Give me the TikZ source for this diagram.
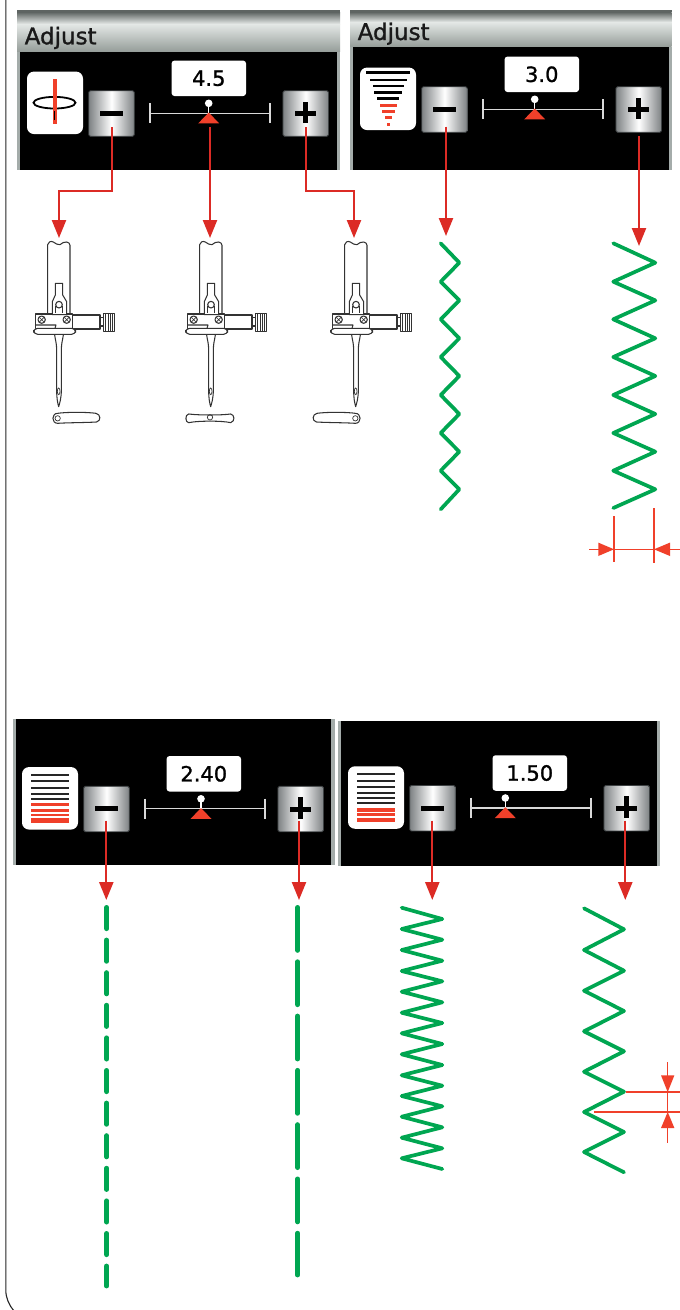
\documentclass[tikz,border=0pt]{standalone}
\usepackage{fontspec}
\setmainfont{DejaVu Sans}
\newfontfamily\uifont[FakeBold=1.1]{DejaVu Sans}
\usetikzlibrary{arrows.meta}
\definecolor{arrowred}{HTML}{DC2B25}
\definecolor{markred}{HTML}{F0402A}
\definecolor{stitch}{HTML}{00A651}
\definecolor{barmid}{HTML}{E4E8E6}
\definecolor{bardark}{HTML}{5E6462}
\definecolor{barlow}{HTML}{959D99}
\definecolor{edgegray}{HTML}{A4ACAA}
\definecolor{btngray}{HTML}{7E8284}
\definecolor{btnedge}{HTML}{3E4244}
\definecolor{inkdark}{HTML}{333333}
\tikzset{
  btn/.style={rectangle,rounded corners=1.5pt,draw=btnedge,line width=0.9pt,minimum width=45.5pt,minimum height=45.5pt,inner sep=0pt,left color=btngray,right color=btngray,middle color=white},
  valbox/.style={rectangle,rounded corners=3pt,fill=white,minimum width=74.5pt,minimum height=35.5pt,inner sep=0pt,font=\uifont\fontsize{21}{21}\selectfont,text=black},
  iconbox/.style={rectangle,rounded corners=7pt,fill=white,minimum width=56pt,minimum height=62.5pt,inner sep=0pt},
  conn/.style={draw=arrowred,line width=2.3pt,-{Triangle[length=18pt,width=14pt]}},
  zig/.style={draw=stitch,line width=3.7pt,line cap=round,line join=round},
  dash1/.style={draw=stitch,line width=4.8pt,line cap=round,dash pattern=on 21.3pt off 11.3pt},
  dash2/.style={draw=stitch,line width=4.8pt,line cap=round,dash pattern=on 43pt off 11.3pt},
  dimline/.style={draw=markred,line width=1.2pt},
  ink/.style={draw=inkdark,line width=1.05pt,line join=round},
  thinink/.style={draw=inkdark,line width=0.7pt},
  inkfill/.style={ink,fill=white},
  sliderline/.style={draw=white!85!black,line width=1.2pt},
  adjusttext/.style={anchor=base west,inner sep=0pt,font=\uifont\fontsize{23}{23}\selectfont,text=black!90}
}
% #1 name, #2 dx, #3 dy, #4 value, #5 knob x
\newcommand{\ctrlpanel}[5]{%
  \begin{scope}[shift={(#2,#3)}]
    \node[iconbox] (#1icon) at (55,102.8) {};
    \node[btn] (#1minus) at (111.5,113.5) {};
    \node[btn] (#1plus) at (305.7,113.5) {};
    \fill[black] (99.5,110.8) rectangle (123,115.8);
    \fill[black] (294.7,111) rectangle (315.5,116);
    \fill[black] (302.6,101.7) rectangle (307.6,123.3);
    \node[valbox] (#1val) at (208.8,78.3) {#4};
    \draw[sliderline] (150,113.3) -- (270,113.3);
    \draw[sliderline] (150,103) -- (150,123.4);
    \draw[sliderline] (270,103) -- (270,123.4);
    \draw[white,line width=1.2pt] (#5,103.3) -- (#5,113.3);
    \fill[white] (#5,103.3) circle (3.8);
    \fill[markred] (#5,112.5) -- (#5+10.5,123.4) -- (#5-10.5,123.4) -- cycle;
  \end{scope}}
% #1 x shift, #2 loop path
\newcommand{\needle}[2]{%
  \begin{scope}[shift={(#1,230)},x=0.3333pt,y=-0.3333pt]
    \draw[ink] (83,250) -- (83,44) .. controls (84,36) and (92,32) .. (100,36) .. controls (108,40) and (112,46) .. (120,44) .. controls (128,42) and (130,32) .. (140,36) .. controls (146,38) and (150,40) .. (150,46) -- (150,250);
    \draw[inkfill] (157,255) rectangle (240,297);
    \draw[inkfill] (240,262) rectangle (250,288);
    \draw[inkfill] (250,250) rectangle (284,304);
    \draw[thinink] (257,250) -- (257,304) (264,250) -- (264,304) (271,250) -- (271,304) (278,250) -- (278,304);
    \draw[inkfill] (47,252) -- (157,252) -- (157,295) -- (47,295) -- cycle;
    \draw[ink] (48,285) -- (108,285) -- (105,295);
    \draw[inkfill] (106,195) -- (106,160) -- (128,160) -- (128,195) -- (140,215) -- (140,254) -- (97,254) -- (97,215) -- cycle;
    \draw[ink] (107,228) -- (107,250) (127,228) -- (127,250);
    \draw[inkfill] (117,224) circle (10);
    \draw[inkfill] (65,269) circle (11);
    \draw[inkfill] (140,269) circle (11);
    \draw[thinink] (58,262) -- (72,276) (58,276) -- (72,262) (133,262) -- (147,276) (133,276) -- (147,262);
    \draw[inkfill,rounded corners=4pt] (41,295) rectangle (167,313);
    \draw[ink] (104,315) .. controls (106,330) and (110,340) .. (110,360) -- (110,480) .. controls (110,505) and (113,520) .. (116,530) .. controls (119,520) and (124,505) .. (124,480) -- (124,360) .. controls (124,340) and (128,330) .. (130,315);
    \draw[thinink] (116,484) ellipse (4 and 10);
    #2
  \end{scope}}
\begin{document}
\begin{tikzpicture}[x=1pt,y=-1pt]
\useasboundingbox (0,0) rectangle (680,1310);
\fill[white] (0,0) rectangle (680,1310);
% page edge
\begin{scope}
\clip (0,0) rectangle (680,1310);
\draw[draw=black!85,line width=1.1pt] (5.8,0) -- (5.8,1290) .. controls (5.8,1298) and (9,1305) .. (14,1311);
\end{scope}

% panel 1 frame
\fill[edgegray] (17,51.7) rectangle (340,170);
\fill[black] (20,51.7) rectangle (337,170);
\fill[bardark] (17,10) rectangle (340,12);
\shade[top color=bardark,bottom color=barmid] (17,12) rectangle (340,24);
\shade[top color=barmid,bottom color=barlow] (17,24) rectangle (340,51.7);
\node[adjusttext] (t1) at (24.5,44.3) {Adjust};
\ctrlpanel{a}{0}{0}{4.5}{208.7}
% panel 2 frame
\fill[edgegray] (350,46.7) rectangle (671.7,170);
\fill[black] (352.7,46.7) rectangle (669.3,170);
\fill[bardark] (350,10) rectangle (671.7,12);
\shade[top color=bardark,bottom color=barmid] (350,12) rectangle (671.7,22);
\shade[top color=barmid,bottom color=barlow] (350,22) rectangle (671.7,46.7);
\node[adjusttext] (t2) at (357.5,40) {Adjust};
\ctrlpanel{b}{333}{-4}{3.0}{201.7}
% panel 3 frame
\fill[edgegray] (12.7,719) rectangle (335,865);
\fill[black] (15.7,719) rectangle (330.7,865);
\ctrlpanel{c}{-5}{695.5}{2.40}{206}
% panel 4 frame
\fill[edgegray] (338.3,721) rectangle (660,866);
\fill[black] (341,721) rectangle (656.7,866);
\ctrlpanel{d}{321}{694.7}{1.50}{184.3}

% icons
\draw[black,line width=1.8pt] (54.5,102.7) ellipse (21 and 5.8);
\draw[markred,line width=3.8pt] (55,79) -- (55,124);
\draw[black,line width=1pt] (54,111) -- (54,120);
\foreach \y/\w in {72.7/44,80/36.7,86/31,92.3/28,98.7/22}{\fill[black] (388.3-\w/2,\y-1.4) rectangle (388.3+\w/2,\y+1.4);}
\foreach \y/\w in {105/16.7,111/12.7,117.3/6.7,124/3.3}{\fill[markred] (388.3-\w/2,\y-1.5) rectangle (388.3+\w/2,\y+1.5);}
\foreach \y in {775.3,781.3,787.7,794,799}{\fill[black!85] (31,\y-.9) rectangle (69.3,\y+.9);}
\fill[markred] (31,802.7) rectangle (69.3,806);
\fill[markred] (31,809) rectangle (69.3,812.3);
\fill[markred] (31,814) rectangle (69.3,816);
\fill[markred] (31,818.3) rectangle (69.3,822.7);
\foreach \y in {774.3,780.7,787.3,793.3,798.3,803.3}{\fill[black!85] (357.3,\y-.9) rectangle (395,\y+.9);}
\fill[markred] (357.3,808.3) rectangle (395,811.7);
\fill[markred] (357.3,813) rectangle (395,815.7);
\fill[markred] (357.3,817.7) rectangle (395,822.3);

% needles
\needle{20}{\draw[ink] (113,550) .. controls (140,546) and (200,546) .. (228,550) .. controls (242,553) and (244,572) .. (230,576) .. controls (200,578) and (140,578) .. (113,580) .. controls (94,580) and (94,550) .. (113,550); \draw[thinink] (113,565) circle (8);}
\needle{172}{\draw[ink] (50,552) .. controls (80,556) and (150,556) .. (176,552) .. controls (188,554) and (190,574) .. (176,578) .. controls (150,572) and (80,572) .. (50,578) .. controls (40,578) and (38,554) .. (50,552); \draw[thinink] (114,562) circle (8);}
\needle{317}{\draw[ink] (115,550) .. controls (88,546) and (28,546) .. (0,550) .. controls (-14,553) and (-16,572) .. (-2,576) .. controls (28,578) and (88,578) .. (115,580) .. controls (134,580) and (134,550) .. (115,550); \draw[thinink] (115,565) circle (8);}

% connectors
\coordinate (as1) at (111.7,127);
\coordinate (ab1) at (111.7,191);
\coordinate (ac1) at (59,191);
\coordinate (at1) at (59,238);
\coordinate (as2) at (210,127);
\coordinate (at2) at (210,238);
\coordinate (as3) at (306,127);
\coordinate (ab3) at (306,191);
\coordinate (ac3) at (354,191);
\coordinate (at3) at (354,238);
\draw[conn] (as1) -- (ab1) -- (ac1) -- (at1);
\draw[conn] (as2) -- (at2);
\draw[conn] (as3) -- (ab3) -- (ac3) -- (at3);
\coordinate (bs1) at (446,126.5);
\coordinate (bt1) at (446,236);
\coordinate (bs2) at (639,136);
\coordinate (bt2) at (639,246);
\draw[conn] (bs1) -- (bt1);
\draw[conn] (bs2) -- (bt2);
\coordinate (cs1) at (106.3,820.7);
\coordinate (ct1) at (106.3,900);
\coordinate (cs2) at (299,820.7);
\coordinate (ct2) at (299,900);
\draw[conn] (cs1) -- (ct1);
\draw[conn] (cs2) -- (ct2);
\coordinate (ds1) at (432.3,820.7);
\coordinate (dt1) at (432.3,900);
\coordinate (ds2) at (625.3,820.7);
\coordinate (dt2) at (625.3,900);
\draw[conn] (ds1) -- (dt1);
\draw[conn] (ds2) -- (dt2);

% stitches
\draw[zig] (440.7,243.3) -- (459.3,262.7) -- (440.7,281.7) -- (459.3,300.4) -- (440.7,319.3) -- (459.3,338.3) -- (440.7,357) -- (459.3,376) -- (440.7,395) -- (459.3,414) -- (440.7,433) -- (459.3,451.7) -- (440.7,470.7) -- (459.3,489.3) -- (440.7,509.3);
\draw[zig] (613.3,243.3) -- (655.3,262.7) -- (613.3,281.7) -- (655.3,300.4) -- (613.3,319.3) -- (655.3,338.3) -- (613.3,357) -- (655.3,376) -- (613.3,395) -- (655.3,414) -- (613.3,433) -- (655.3,451.7) -- (613.3,470.7) -- (655.3,489.3) -- (613.3,508);
\draw[dash1] (106.7,907.4) -- (106.7,1286);
\draw[dash2] (297.7,907.4) -- (297.7,1275);
\draw[zig] (401.7,907.7) -- (442.3,919) -- (401.7,929) -- (442.3,939.7) -- (401.7,950) -- (442.3,960.7) -- (401.7,971) -- (442.3,981.3) -- (401.7,991.7) -- (442.3,1002.3) -- (401.7,1012.7) -- (442.3,1023) -- (401.7,1033.3) -- (442.3,1044) -- (401.7,1054.3) -- (442.3,1065) -- (401.7,1075.3) -- (442.3,1085.7) -- (401.7,1096) -- (442.3,1106.3) -- (401.7,1116.7) -- (442.3,1127.3) -- (401.7,1137.7) -- (442.3,1148.3) -- (401.7,1158.3) -- (442.3,1169);
\draw[zig] (584,908.3) -- (624,929.3) -- (584,950) -- (624,970.7) -- (584,990.7) -- (624,1011) -- (584,1031.3) -- (624,1051.3) -- (584,1071.7) -- (624,1091.7) -- (584,1112) -- (624,1132) -- (584,1152) -- (624,1172.3);

% dimension marks
\draw[dimline] (614,516) -- (614,561.7);
\draw[dimline] (654,508.3) -- (654,562.7);
\draw[dimline] (589.3,549.3) -- (680,549.3);
\fill[markred] (614,549.3) -- (598.3,542.6) -- (598.3,556) -- cycle;
\fill[markred] (654,549.3) -- (670,542.6) -- (670,556) -- cycle;
\draw[dimline] (626,1092) -- (680,1092);
\draw[dimline] (594,1112) -- (680,1112);
\draw[dimline] (667.7,1062.3) -- (667.7,1143.3);
\fill[markred] (667.7,1092) -- (661,1075.3) -- (674.4,1075.3) -- cycle;
\fill[markred] (667.7,1112) -- (661,1128) -- (674.4,1128) -- cycle;
\end{tikzpicture}
\end{document}
